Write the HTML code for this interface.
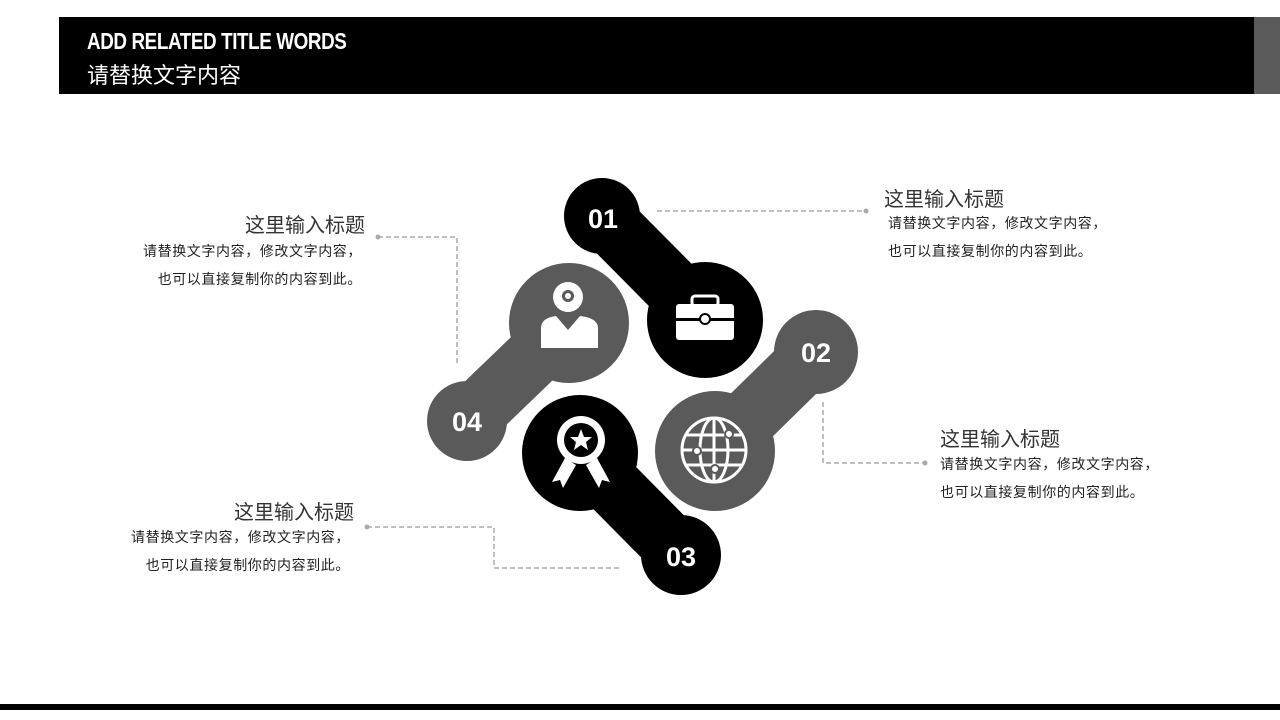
<!DOCTYPE html>
<html><head><meta charset="utf-8"><style>
body{margin:0;width:1280px;height:720px;background:#fff;position:relative;overflow:hidden;font-family:"Liberation Sans","Noto Sans CJK SC",sans-serif}
.hdr{position:absolute;left:59px;top:17px;width:1195px;height:77px;background:#000}
.gr{position:absolute;left:1254px;top:17px;width:26px;height:77px;background:#5a5a5a}
.t1{position:absolute;left:87px;top:28px;color:#fff;font:bold 23px "Liberation Sans",sans-serif;transform:scaleX(0.82);transform-origin:left;letter-spacing:-0.5px}
.t2{position:absolute;left:87px;top:58px;color:#fff;font-size:22px}
.bot{position:absolute;left:0;top:704px;width:1280px;height:6px;background:#000}
.tt{position:absolute;font-size:20px;color:#333;white-space:nowrap}
.tx{position:absolute;font-size:14px;color:#222;white-space:nowrap;line-height:28px;letter-spacing:0.6px}
</style></head><body>
<div class="hdr"></div><div class="gr"></div>
<div class="t1">ADD RELATED TITLE WORDS</div>
<div class="t2">请替换文字内容</div>
<div class="bot"></div>
<svg width="1280" height="720" style="position:absolute;left:0;top:0">
<g stroke="#aaa" stroke-width="1.5" stroke-dasharray="5,3" fill="none">
<path d="M657 211H866"/><path d="M378 237H457V365"/><path d="M823 402V463H925"/><path d="M367 527H494V568H620"/>
</g>
<g fill="#aaa"><circle cx="866" cy="211" r="2.5"/><circle cx="378" cy="237" r="2.5"/><circle cx="925" cy="463" r="2.5"/><circle cx="367" cy="527" r="2.5"/></g>
<g fill="#000" stroke="#000" stroke-width="60" stroke-linecap="round">
<circle cx="602" cy="216" r="38" stroke="none"/><circle cx="705" cy="320" r="58" stroke="none"/><path d="M602 216L705 320"/>
<circle cx="580" cy="453" r="58" stroke="none"/><circle cx="681" cy="555" r="40" stroke="none"/><path d="M580 453L681 555"/>
</g>
<g fill="#5a5a5a" stroke="#5a5a5a" stroke-width="60" stroke-linecap="round">
<circle cx="816" cy="352" r="42" stroke="none"/><circle cx="715" cy="451" r="60" stroke="none"/><path d="M816 352L715 451"/>
<circle cx="569" cy="323" r="60" stroke="none"/><circle cx="467" cy="421" r="40" stroke="none"/><path d="M569 323L467 421"/>
</g>
<g fill="#fff" font-family="Liberation Sans" font-weight="bold" font-size="27" text-anchor="middle">
<text x="603" y="228">01</text><text x="816" y="362">02</text><text x="681" y="566">03</text><text x="467" y="431">04</text>
</g>
<g fill="#fff"><rect x="676" y="304" width="58" height="36" rx="3"/><rect x="692" y="296" width="26" height="10" rx="3" fill="none" stroke="#fff" stroke-width="3"/>
<rect x="674" y="318" width="62" height="3" fill="#000"/><circle cx="705" cy="319" r="5" fill="#fff" stroke="#000" stroke-width="2"/></g>
<g fill="#fff"><circle cx="568" cy="297" r="15"/><path d="M541 348V328Q541 318 556 316L568 330L580 316Q598 318 598 328V348Z"/>
<circle cx="568" cy="296" r="6" fill="#5a5a5a"/><circle cx="568" cy="296" r="3" fill="#fff"/></g>
<g fill="#fff"><circle cx="581" cy="440" r="24"/><circle cx="581" cy="440" r="17" fill="#000"/>
<polygon points="581,429 584,437 592,437 586,442 588,450 581,445 574,450 576,442 570,437 578,437"/>
<polygon points="565,458 552,482 560,480 563,488 576,465"/><polygon points="597,458 610,482 602,480 599,488 586,465"/></g>
<g fill="none" stroke="#fff" stroke-width="3"><circle cx="714" cy="450" r="32"/><ellipse cx="714" cy="450" rx="14" ry="32"/><path d="M714 418V482M682 450H746M687 435H741M687 465H741"/></g>
<g fill="#fff" stroke="#5a5a5a" stroke-width="2"><circle cx="697" cy="451" r="4"/><circle cx="729" cy="434" r="4"/><circle cx="715" cy="469" r="4"/></g>
</svg>
<div class="tt" style="left:884px;top:183px">这里输入标题</div>
<div class="tx" style="left:888px;top:209px">请替换文字内容，修改文字内容，<br>也可以直接复制你的内容到此。</div>
<div class="tt" style="left:940px;top:423px">这里输入标题</div>
<div class="tx" style="left:940px;top:450px">请替换文字内容，修改文字内容，<br>也可以直接复制你的内容到此。</div>
<div class="tt" style="right:915px;top:209px">这里输入标题</div>
<div class="tx" style="right:918px;top:237px;text-align:right">请替换文字内容，修改文字内容，<br>也可以直接复制你的内容到此。</div>
<div class="tt" style="right:926px;top:496px">这里输入标题</div>
<div class="tx" style="right:930px;top:523px;text-align:right">请替换文字内容，修改文字内容，<br>也可以直接复制你的内容到此。</div>
</body></html>
